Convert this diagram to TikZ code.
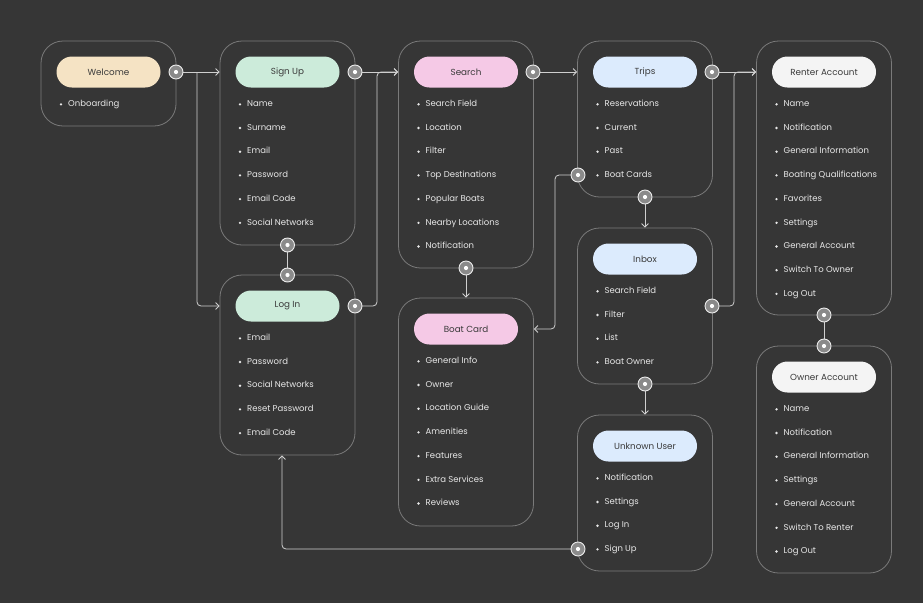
\documentclass[tikz,border=0pt]{standalone}
\usepackage{fontspec}
\setmainfont{Poppins}
\usetikzlibrary{arrows.meta,calc}
\definecolor{bg}{HTML}{363636}
\definecolor{cardline}{HTML}{7A7A7A}
\definecolor{conncol}{HTML}{CFCFCF}
\definecolor{itemtext}{HTML}{E8E8E8}
\definecolor{pilltext}{HTML}{3A3A3A}
\definecolor{portfill}{HTML}{8A8A8A}
\definecolor{cwelcome}{HTML}{F5E3C4}
\definecolor{cmint}{HTML}{CCEBDA}
\definecolor{cpink}{HTML}{F5C9E6}
\definecolor{cblue}{HTML}{DCEBFD}
\definecolor{cwhite}{HTML}{F4F4F4}
\tikzset{
  card/.style={draw=cardline, rounded corners=22pt, line width=0.8pt, minimum width=135pt, inner sep=0pt},
  pill/.style={rounded corners=15.5pt, minimum width=104pt, minimum height=31pt, inner sep=0pt, text=pilltext, font=\fontsize{8.8}{10}\selectfont},
  item/.style={anchor=west, inner sep=0pt, text height=6.3pt, text depth=1.9pt, text=itemtext, font=\fontsize{8.5}{10}\selectfont},
  port/.style={circle, draw=white!85!gray, fill=portfill, minimum size=14pt, inner sep=0pt, line width=0.9pt,
    path picture={\fill[white] (path picture bounding box.center) circle (2.1pt);}},
  conn/.style={draw=conncol, line width=0.8pt, rounded corners=4pt},
  arr/.style={conn, -{Straight Barb[length=3.5pt,width=7pt,line width=0.8pt]}},
}
\newcommand\mkcard[7]{%
  \node[card, minimum height=#4pt] (#1) at (#2,{#3+#4/2}) {};
  \node[pill, fill=#6] (#1-t) at (#2,{#3+31}) {#5};
  \foreach \t [count=\i] in {#7}{
    \node[item] (#1-\i) at ({#2-40.5},{#3+63.3+(\i-1)*23.7}) {\t};
    \fill[itemtext] ({#2-47.5},{#3+63.3+(\i-1)*23.7}) circle (1.3pt);
  }
}
\begin{document}
\begin{tikzpicture}[x=1pt,y=-1pt]
\fill[bg] (0,0) rectangle (923,603);
\useasboundingbox (0,0) rectangle (923,603);

\mkcard{welcome}{108.5}{41}{85}{Welcome}{cwelcome}{Onboarding}
\mkcard{signup}{287.5}{41}{204}{Sign Up}{cmint}{Name,Surname,Email,Password,Email Code,Social Networks}
\mkcard{login}{287.5}{275}{180}{Log In}{cmint}{Email,Password,Social Networks,Reset Password,Email Code}
\mkcard{search}{466}{41}{227}{Search}{cpink}{Search Field,Location,Filter,Top Destinations,Popular Boats,Nearby Locations,Notification}
\mkcard{boatcard}{466}{298}{228}{Boat Card}{cpink}{General Info,Owner,Location Guide,Amenities,Features,Extra Services,Reviews}
\mkcard{trips}{645}{41}{156}{Trips}{cblue}{Reservations,Current,Past,Boat Cards}
\mkcard{inbox}{645}{228}{156}{Inbox}{cblue}{Search Field,Filter,List,Boat Owner}
\mkcard{unknown}{645}{415}{156}{Unknown User}{cblue}{Notification,Settings,Log In,Sign Up}
\mkcard{renter}{824}{41}{274}{Renter Account}{cwhite}{Name,Notification,General Information,Boating Qualifications,Favorites,Settings,General Account,Switch To Owner,Log Out}
\mkcard{owner}{824}{346}{227}{Owner Account}{cwhite}{Name,Notification,General Information,Settings,General Account,Switch To Renter,Log Out}

% connectors
\draw[arr] (176,72) -- (signup.west |- welcome-t);
\draw[arr] (197,72) -- (197,306) -- (login.west |- login-t);
\draw[conn] (signup.south) -- (login.north);
\draw[arr] (355,72) -- (search.west |- search-t);
\draw[arr] (355,306) -- (377,306) -- (377,72) -- (search.west |- search-t);
\draw[arr] (search.south) -- (boatcard.north);
\draw[arr] (533,72) -- (trips.west |- trips-t);
\draw[arr] (578,175) -- (555,175) -- (555,329) -- (boatcard.east |- boatcard-t);
\draw[arr] (trips.south) -- (inbox.north);
\draw[arr] (inbox.south) -- (unknown.north);
\draw[arr] (712,72) -- (renter.west |- renter-t);
\draw[arr] (712,306) -- (734,306) -- (734,72) -- (renter.west |- renter-t);
\draw[conn] (renter.south) -- (owner.north);
\draw[arr] (578,549) -- (282,549) -- ([xshift=-5.5pt]login.south);

% ports
\foreach \n/\x/\y in {wp/176/72, sp/355/72, sb/287.5/245, lt/287.5/275, lp/355/306, ep/533/72, eb/466/268,
  tp/712/72, tl/578/175, tb/645/197, ip/712/306, ib/645/384, ul/578/549, rb/824/315, ot/824/346}
  \node[port] (port-\n) at (\x,\y) {};
\end{tikzpicture}
\end{document}
